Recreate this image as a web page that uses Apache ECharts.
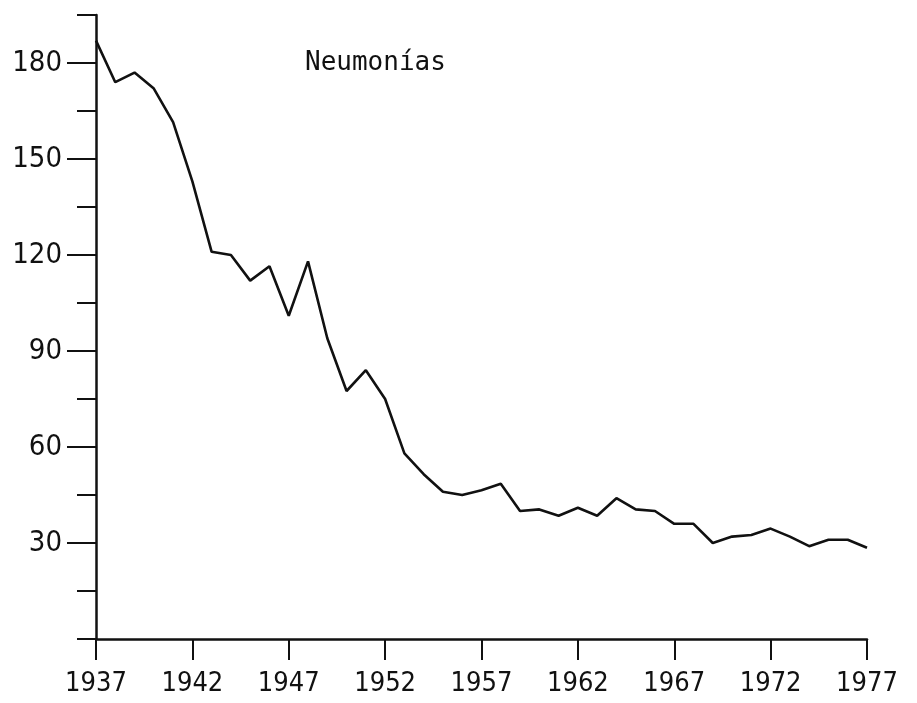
<!DOCTYPE html>
<html>
<head>
<meta charset="utf-8">
<script src="https://cdn.jsdelivr.net/npm/echarts@6/dist/echarts.min.js"></script>
<style>
  html, body { margin: 0; padding: 0; background: #fff; }
  #chart { width: 917px; height: 703px; }
</style>
</head>
<body>
<div id="chart"></div>
<script>
// años (eje x)
var years = ['1937', '1938', '1939', '1940', '1941', '1942', '1943', '1944', '1945', '1946',
             '1947', '1948', '1949', '1950', '1951', '1952', '1953', '1954', '1955', '1956',
             '1957', '1958', '1959', '1960', '1961', '1962', '1963', '1964', '1965', '1966',
             '1967', '1968', '1969', '1970', '1971', '1972', '1973', '1974', '1975', '1976',
             '1977'];
// tasa de neumonías
var neumonias = [187, 174, 177, 172, 161.5, 143, 121, 120, 112, 116.5,
                 101, 118, 94, 77.5, 84, 75, 58, 51.5, 46, 45,
                 46.5, 48.5, 40, 40.5, 38.5, 41, 38.5, 44, 40.5, 40,
                 36, 36, 30, 32, 32.5, 34.5, 32, 29, 31, 31,
                 28.5];
// marcas del eje y
var yLabels = [30, 60, 90, 120, 150, 180];

var ink = '#111';
var labelFont = "'DejaVu Sans Condensed', 'Liberation Sans', sans-serif";
var chart = echarts.init(document.getElementById('chart'));

var option = {
    animation: false,
    backgroundColor: '#fff',
    title: {
        text: 'Neumonías',
        left: 300,
        top: 45,
        textStyle: {
            fontFamily: 'DejaVu Sans Mono',
            fontSize: 26,
            fontWeight: 'normal',
            color: ink
        }
    },
    grid: { left: 96, right: 50, top: 15, bottom: 64 },
    xAxis: {
        type: 'category',
        data: years,
        boundaryGap: false,
        axisLine: { lineStyle: { color: ink, width: 2.5 } },
        axisTick: { interval: 4, length: 21, lineStyle: { color: ink, width: 2 } },
        axisLabel: {
            interval: 4,
            margin: 31,
            fontFamily: labelFont,
            fontSize: 27,
            color: ink
        },
        splitLine: { show: false }
    },
    yAxis: [{
        type: 'value',
        min: 0,
        max: 195,
        interval: 15,
        axisLine: { show: true, lineStyle: { color: ink, width: 2.5 } },
        axisTick: { show: true, length: 19, lineStyle: { color: ink, width: 2 } },
        axisLabel: {
            margin: 34,
            fontFamily: labelFont,
            fontSize: 29,
            color: ink,
            padding: [6, 0, 0, 0],
            formatter: function (v) {
                return yLabels.indexOf(v) >= 0 ? String(v) : '';
            }
        },
        splitLine: { show: false }
    }, {
        // marcas largas en los valores rotulados
        type: 'value',
        position: 'left',
        min: 0,
        max: 195,
        interval: 15,
        axisLine: { show: false },
        axisTick: { show: true, length: 29, customValues: yLabels, lineStyle: { color: ink, width: 2 } },
        axisLabel: { show: false },
        splitLine: { show: false }
    }],
    series: [{
        name: 'Neumonías',
        type: 'line',
        data: neumonias,
        showSymbol: false,
        lineStyle: { color: ink, width: 2.6 }
    }]
};

chart.setOption(option);
</script>
</body>
</html>
